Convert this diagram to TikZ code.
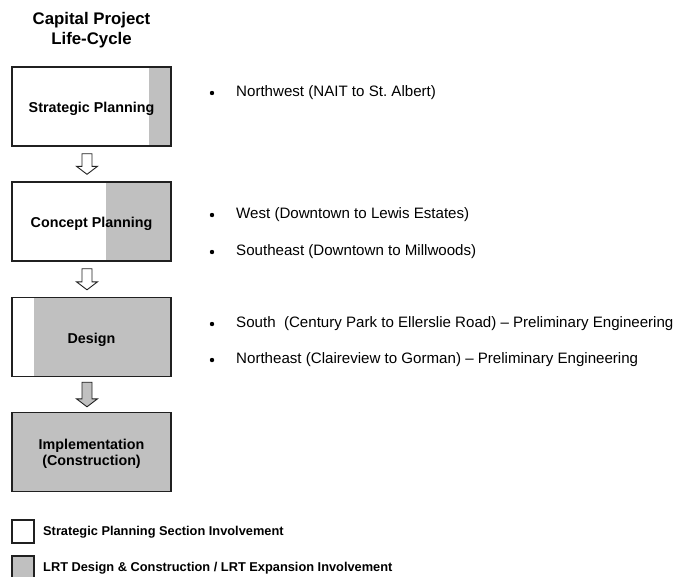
\documentclass[tikz,border=0pt]{standalone}
\usepackage{fontspec}
\setmainfont{Liberation Sans}
\usetikzlibrary{calc}
\definecolor{boxgray}{HTML}{C0C0C0}
\definecolor{edge}{HTML}{202020}
\newcommand\blockarrow[3]{%
  \draw[barrow, fill=#3] ($(#1)+(-5,0)$) -- ($(#1)+(5,0)$) -- ($(#2)+(5,-8)$) -- ($(#2)+(10.5,-8)$)
    -- (#2) -- ($(#2)+(-10.5,-8)$) -- ($(#2)+(-5,-8)$) -- cycle;}
\frenchspacing
\begin{document}
\begin{tikzpicture}[x=1pt,y=-1pt,
  stagebox/.style={draw=edge, line width=1.4pt, minimum width=159pt, minimum height=79pt,
    inner sep=0pt, align=center,
    path picture={\fill[boxgray] ($(path picture bounding box.north east)+(-#1,0)$) rectangle (path picture bounding box.south east);}},
  lbl/.style={inner sep=0pt, align=center, font=\fontsize{14.3}{16}\selectfont\bfseries},
  item/.style={anchor=west, inner sep=0pt, font=\fontsize{15.1}{18}\selectfont},
  dot/.style={circle, fill=black, inner sep=0pt, minimum size=4.4pt},
  legbox/.style={draw=edge, line width=1.2pt, minimum width=22pt, minimum height=23pt, inner sep=0pt},
  legtext/.style={anchor=west, inner sep=0pt, font=\fontsize{12.8}{15}\selectfont\bfseries},
  barrow/.style={draw=edge, line width=0.9pt, line join=miter}
]
\useasboundingbox (0,0) rectangle (692,576);

% title
\node[lbl, font=\fontsize{16.8}{20}\selectfont\bfseries] (title) at (91.5,30) {Capital Project\\Life-Cycle};

% stage boxes
\node[stagebox=22] (s1) at (91.5,106.5) {};
\node[stagebox=65] (s2) at (91.5,221.5) {};
\node[stagebox=137] (s3) at (91.5,337) {};
\node[stagebox=159] (s4) at (91.5,452) {};
\node[lbl] (t1) at ($(s1.center)+(0,2.5)$) {Strategic Planning};
\node[lbl] (t2) at ($(s2.center)+(0,2.5)$) {Concept Planning};
\node[lbl] (t3) at ($(s3.center)+(0,2.5)$) {Design};
\node[lbl] (t4) at ($(s4.center)+(0,2)$) {Implementation\\(Construction)};

% block arrows
\coordinate (a1s) at ($(s1.south)+(-4.5,7)$);
\coordinate (a1e) at ($(s2.north)+(-4.5,-7)$);
\coordinate (a2s) at ($(s2.south)+(-4.5,7)$);
\coordinate (a2e) at ($(s3.north)+(-4.5,-7)$);
\coordinate (a3s) at ($(s3.south)+(-4.5,5)$);
\coordinate (a3e) at ($(s4.north)+(-4.5,-5)$);
\blockarrow{a1s}{a1e}{white}
\blockarrow{a2s}{a2e}{white}
\blockarrow{a3s}{a3e}{boxgray}

% bullet items
\node[dot] (d1) at (212,93) {};
\node[item] (i1) at (236,93) {Northwest (NAIT to St. Albert)};
\node[dot] (d2) at (212,215) {};
\node[item] (i2) at (236,215) {West (Downtown to Lewis Estates)};
\node[dot] (d3) at (212,252) {};
\node[item] (i3) at (236,252) {Southeast (Downtown to Millwoods)};
\node[dot] (d4) at (212,324) {};
\node[item] (i4) at (236,324) {South\ \ (Century Park to Ellerslie Road) – Preliminary Engineering};
\node[dot] (d5) at (212,360) {};
\node[item] (i5) at (236,360) {Northeast (Claireview to Gorman) – Preliminary Engineering};

% legend
\node[legbox, fill=white] (l1) at (23,531.5) {};
\node[legtext] (lt1) at (43,532) {Strategic Planning Section Involvement};
\node[legbox, fill=boxgray] (l2) at (23,567.5) {};
\node[legtext] (lt2) at (43,568) {LRT Design \& Construction / LRT Expansion Involvement};
\end{tikzpicture}
\end{document}
